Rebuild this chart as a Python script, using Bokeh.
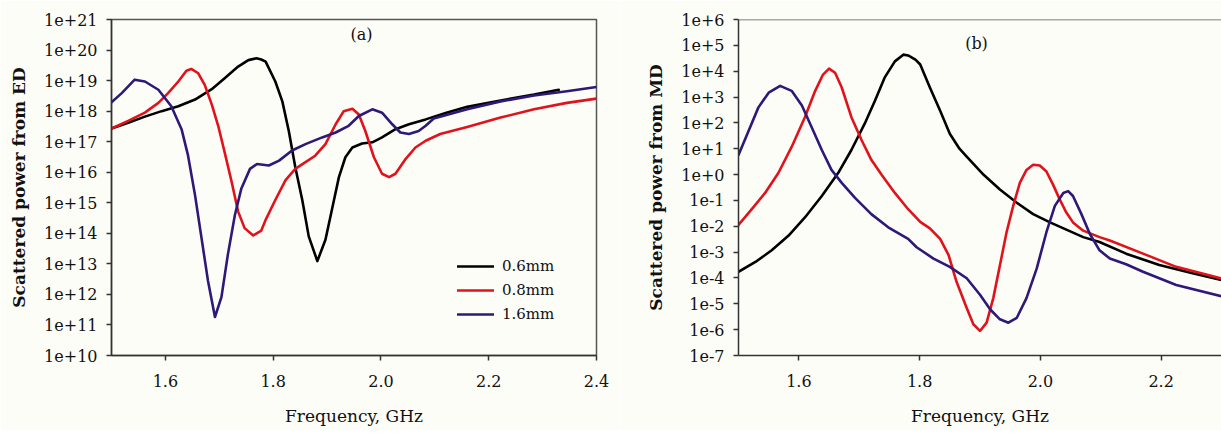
import numpy as np
from bokeh.plotting import figure
from bokeh.layouts import row
from bokeh.models import (FixedTicker, CustomJSTickFormatter, Legend, LegendItem,
                          Label, Span, Range1d)
from bokeh.embed import file_html
from bokeh.resources import INLINE

# ---------------- Panel (a): scattered power from ED (log10 values) ----------------
freq_a_06 = [1.500, 1.531, 1.562, 1.593, 1.624, 1.655, 1.686, 1.710, 1.735, 1.754, 1.769,
             1.778, 1.786, 1.804, 1.817, 1.829, 1.841, 1.854, 1.866, 1.882, 1.897, 1.909,
             1.922, 1.934, 1.947, 1.965, 1.984, 2.002, 2.027, 2.052, 2.083, 2.120, 2.160,
             2.222, 2.284, 2.330]
ed_06_exp = [17.43, 17.62, 17.82, 18.00, 18.16, 18.38, 18.72, 19.08, 19.46, 19.67, 19.73,
             19.69, 19.62, 18.97, 18.32, 17.35, 16.17, 15.09, 13.90, 13.09, 13.79, 14.77,
             15.84, 16.49, 16.81, 16.94, 16.98, 17.14, 17.41, 17.57, 17.73, 17.94, 18.14,
             18.35, 18.54, 18.70]

freq_a_08 = [1.500, 1.531, 1.562, 1.587, 1.605, 1.624, 1.639, 1.648, 1.661, 1.673, 1.686,
             1.698, 1.710, 1.723, 1.735, 1.747, 1.763, 1.778, 1.786, 1.804, 1.823, 1.841,
             1.860, 1.878, 1.897, 1.916, 1.931, 1.947, 1.959, 1.971, 1.987, 2.002, 2.015,
             2.027, 2.046, 2.064, 2.083, 2.110, 2.160, 2.222, 2.284, 2.345, 2.400]
ed_08_exp = [17.43, 17.68, 17.95, 18.27, 18.59, 18.97, 19.32, 19.38, 19.24, 18.86, 18.22,
             17.52, 16.65, 15.68, 14.71, 14.17, 13.93, 14.09, 14.44, 15.09, 15.74, 16.11,
             16.33, 16.54, 16.92, 17.57, 18.00, 18.08, 17.89, 17.35, 16.49, 15.95, 15.84,
             15.95, 16.44, 16.81, 17.03, 17.25, 17.48, 17.79, 18.06, 18.27, 18.41]

freq_a_16 = [1.500, 1.519, 1.543, 1.562, 1.587, 1.611, 1.630, 1.642, 1.655, 1.667, 1.679,
             1.692, 1.704, 1.716, 1.729, 1.741, 1.757, 1.770, 1.792, 1.811, 1.835, 1.860,
             1.891, 1.916, 1.940, 1.959, 1.984, 2.002, 2.021, 2.036, 2.052, 2.070, 2.083,
             2.098, 2.160, 2.222, 2.284, 2.345, 2.400]
ed_16_exp = [18.29, 18.59, 19.03, 18.97, 18.70, 18.16, 17.41, 16.55, 15.25, 13.85, 12.45,
             11.26, 11.91, 13.31, 14.60, 15.47, 16.11, 16.27, 16.22, 16.38, 16.71, 16.92,
             17.14, 17.30, 17.52, 17.84, 18.06, 17.95, 17.57, 17.30, 17.25, 17.35, 17.52,
             17.76, 18.06, 18.32, 18.51, 18.65, 18.79]

# ---------------- Panel (b): scattered power from MD (log10 values) ----------------
freq_b_06 = [1.500, 1.528, 1.555, 1.583, 1.610, 1.638, 1.665, 1.687, 1.709, 1.726, 1.742,
             1.759, 1.773, 1.781, 1.793, 1.801, 1.817, 1.834, 1.850, 1.866, 1.878, 1.906,
             1.933, 1.961, 1.988, 2.016, 2.043, 2.071, 2.098, 2.142, 2.197, 2.252, 2.300]
md_06_exp = [-3.76, -3.38, -2.93, -2.36, -1.66, -0.83, 0.06, 0.95, 1.97, 2.86, 3.75,
             4.38, 4.64, 4.61, 4.45, 4.26, 3.37, 2.47, 1.58, 1.00, 0.69, -0.01,
             -0.58, -1.09, -1.53, -1.85, -2.13, -2.42, -2.61, -3.06, -3.50, -3.82, -4.08]

freq_b_08 = [1.500, 1.522, 1.544, 1.566, 1.588, 1.610, 1.627, 1.640, 1.650, 1.660, 1.671,
             1.687, 1.704, 1.720, 1.737, 1.759, 1.781, 1.801, 1.817, 1.834, 1.848, 1.861,
             1.878, 1.889, 1.900, 1.911, 1.922, 1.933, 1.944, 1.955, 1.966, 1.977, 1.988,
             1.999, 2.010, 2.021, 2.032, 2.043, 2.054, 2.071, 2.098, 2.115, 2.170, 2.225,
             2.300]
md_08_exp = [-1.95, -1.34, -0.71, 0.06, 1.07, 2.22, 3.24, 3.87, 4.10, 3.94, 3.37,
             2.22, 1.33, 0.57, -0.01, -0.71, -1.34, -1.83, -2.08, -2.49, -3.12, -4.14,
             -5.16, -5.79, -6.05, -5.73, -4.78, -3.51, -2.23, -1.21, -0.32, 0.18, 0.38,
             0.35, 0.12, -0.39, -0.96, -1.47, -1.85, -2.17, -2.42, -2.55, -3.06, -3.57,
             -4.02]

freq_b_16 = [1.500, 1.517, 1.533, 1.550, 1.569, 1.588, 1.605, 1.621, 1.638, 1.654, 1.671,
             1.693, 1.720, 1.748, 1.781, 1.795, 1.823, 1.850, 1.878, 1.900, 1.917, 1.933,
             1.947, 1.961, 1.977, 1.994, 2.010, 2.024, 2.038, 2.046, 2.054, 2.068, 2.082,
             2.098, 2.115, 2.142, 2.170, 2.225, 2.300]
md_16_exp = [0.76, 1.71, 2.60, 3.17, 3.43, 3.24, 2.67, 1.84, 0.95, 0.18, -0.32,
             -0.90, -1.53, -2.04, -2.49, -2.81, -3.25, -3.57, -4.01, -4.65, -5.22, -5.60,
             -5.73, -5.54, -4.78, -3.63, -2.23, -1.21, -0.71, -0.64, -0.83, -1.53, -2.30,
             -2.93, -3.25, -3.47, -3.76, -4.27, -4.71]

series_labels = ["0.6mm", "0.8mm", "1.6mm"]
colors = ["#000000", "#e0121c", "#2e1878"]

ticks_a_x = [1.6, 1.8, 2.0, 2.2, 2.4]
ticks_b_x = [1.6, 1.8, 2.0, 2.2]
exp_a = list(range(10, 22))
exp_b = list(range(-7, 7))

BG = "#fdfdf7"
SERIF = "DejaVu Serif"

fmt_js = """
const e = Math.round(Math.log10(tick));
return "1e" + (e >= 0 ? "+" : "-") + Math.abs(e);
"""


def style(p, xticks, yticks, ylabel):
    p.background_fill_color = BG
    p.border_fill_color = BG
    p.grid.visible = False
    p.xaxis.ticker = FixedTicker(ticks=xticks)
    p.xaxis.formatter = CustomJSTickFormatter(code="return tick.toFixed(1);")
    p.yaxis.ticker = FixedTicker(ticks=[10.0 ** k for k in yticks])
    p.yaxis.formatter = CustomJSTickFormatter(code=fmt_js)
    for ax in (p.xaxis, p.yaxis):
        ax.minor_tick_line_color = None
        ax.major_tick_in = 0
        ax.major_tick_out = 5
        ax.major_tick_line_color = "#333333"
        ax.major_tick_line_width = 1.5
        ax.axis_line_color = "#333333"
        ax.axis_line_width = 1.5
        ax.major_label_text_font = SERIF
        ax.major_label_text_font_size = "16px"
        ax.major_label_text_color = "#111111"
        ax.axis_label_text_font = SERIF
        ax.axis_label_text_color = "#111111"
    p.xaxis.major_label_standoff = 14
    p.yaxis.major_label_standoff = 9
    p.xaxis.axis_label = "Frequency, GHz"
    p.xaxis.axis_label_text_font_size = "17px"
    p.xaxis.axis_label_text_font_style = "normal"
    p.xaxis.axis_label_standoff = 16
    p.yaxis.axis_label = ylabel
    p.yaxis.axis_label_text_font_size = "17px"
    p.yaxis.axis_label_text_font_style = "bold"
    p.yaxis.axis_label_standoff = 12


# ---------------- figure (a) ----------------
pa = figure(width=620, height=430, y_axis_type="log",
            x_range=Range1d(1.5, 2.4), y_range=Range1d(1e10, 1e21),
            output_backend="svg", toolbar_location=None,
            min_border_left=111, min_border_right=24, min_border_top=19, min_border_bottom=71)
style(pa, ticks_a_x, exp_a, "Scattered power from ED")
pa.outline_line_color = "#555555"
pa.outline_line_width = 1.5

renderers_a = []
for fx, ex, c in zip([freq_a_06, freq_a_08, freq_a_16], [ed_06_exp, ed_08_exp, ed_16_exp], colors):
    r = pa.line(fx, 10.0 ** np.array(ex), line_color=c, line_width=2.6,
                line_join="round", line_cap="round")
    renderers_a.append(r)

legend = Legend(items=[LegendItem(label=l, renderers=[r]) for l, r in zip(series_labels, renderers_a)],
                location=(346, 31), orientation="vertical",
                glyph_width=37, glyph_height=20, label_height=20, spacing=4,
                label_standoff=8, padding=0, margin=0,
                background_fill_alpha=0, border_line_color=None,
                label_text_font=SERIF, label_text_font_size="15px", label_text_color="#111111")
pa.add_layout(legend)
pa.add_layout(Label(x=250, y=321, x_units="screen", y_units="screen", text="(a)",
                    text_align="center", text_baseline="middle",
                    text_font=SERIF, text_font_size="16px", text_color="#111111"))

# ---------------- figure (b) ----------------
pb = figure(width=601, height=430, y_axis_type="log",
            x_range=Range1d(1.5, 2.3), y_range=Range1d(1e-7, 1e6),
            output_backend="svg", toolbar_location=None,
            min_border_left=118, min_border_right=0, min_border_top=14, min_border_bottom=75)
style(pb, ticks_b_x, exp_b, "Scattered power from MD")
pb.outline_line_color = None
pb.add_layout(Span(location=1e6, dimension="width", line_color="#555555", line_width=1.5))

for fx, ex, c in zip([freq_b_06, freq_b_08, freq_b_16], [md_06_exp, md_08_exp, md_16_exp], colors):
    pb.line(fx, 10.0 ** np.array(ex), line_color=c, line_width=2.6,
            line_join="round", line_cap="round")

pb.add_layout(Label(x=238, y=312, x_units="screen", y_units="screen", text="(b)",
                    text_align="center", text_baseline="middle",
                    text_font=SERIF, text_font_size="16px", text_color="#111111"))

layout = row(pa, pb)
open("out.html", "w").write(file_html(layout, INLINE))
